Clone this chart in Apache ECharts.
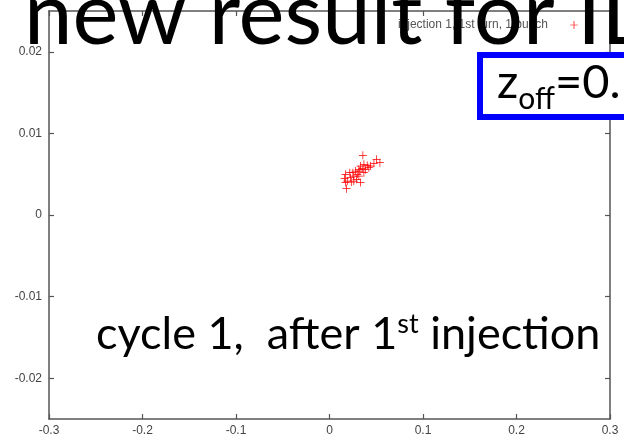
<!DOCTYPE html>
<html>
<head>
<meta charset="utf-8">
<script src="https://cdn.jsdelivr.net/npm/echarts@6/dist/echarts.min.js"></script>
<style>
  html, body { margin: 0; padding: 0; background: #fff; }
  #chart { width: 624px; height: 440px; }
</style>
</head>
<body>
<div id="chart"></div>
<script>
// Particle positions after the first injection (first turn, one bunch)
const xValues = [0.0357, 0.0504, 0.0539, 0.0475, 0.0439, 0.0404, 0.0368, 0.0332, 0.0350, 0.0314,
                 0.0279, 0.0297, 0.0260, 0.0225, 0.0171, 0.0161, 0.0190, 0.0171, 0.0233, 0.0260,
                 0.0325, 0.0386, 0.0421, 0.0289, 0.0332, 0.0182, 0.0217, 0.0368, 0.0314, 0.0250];
const yValues = [0.00731, 0.00682, 0.00641, 0.00633, 0.00600, 0.00608, 0.00621, 0.00600, 0.00568, 0.00559,
                 0.00539, 0.00498, 0.00477, 0.00458, 0.00498, 0.00446, 0.00416, 0.00397, 0.00404, 0.00416,
                 0.00539, 0.00559, 0.00580, 0.00437, 0.00397, 0.00323, 0.00519, 0.00519, 0.00477, 0.00519];

const seriesName = 'injection 1, 1st turn, 1 bunch';
const yTickValues = [-0.02, -0.01, 0, 0.01, 0.02];
const yTickLabels = ['-0.02', '-0.01', '0', '0.01', '0.02'];
const xTickLabels = ['-0.3', '-0.2', '-0.1', '0', '0.1', '0.2', '0.3'];

const titleText = 'new result for ILC';
const offsetLabel = 'off';
const offsetValue = '=0.';

const points = xValues.map((x, i) => [x, yValues[i]]);

// thin "+" marker
const plusPath = 'path://M-0.09,-1 L0.09,-1 L0.09,-0.09 L1,-0.09 L1,0.09 L0.09,0.09 L0.09,1 L-0.09,1 L-0.09,0.09 L-1,0.09 L-1,-0.09 L-0.09,-0.09 Z';

const axisColor = '#555';
const labelFont = { fontFamily: 'Liberation Sans', fontSize: 12, color: '#444' };

function xLabel(v) {
  const i = Math.round((v + 0.3) / 0.1);
  return xTickLabels[i] !== undefined ? xTickLabels[i] : '';
}
function yLabel(v) {
  const i = yTickValues.findIndex(t => Math.abs(t - v) < 1e-9);
  return i >= 0 ? yTickLabels[i] : '';
}

const chart = echarts.init(document.getElementById('chart'), null, { renderer: 'canvas' });

chart.setOption({
  animation: false,
  backgroundColor: '#fff',
  grid: { left: 49, right: 14, top: 11, bottom: 21, containLabel: false },
  legend: {
    top: 14,
    right: 41,
    align: 'right',
    itemWidth: 8,
    itemHeight: 8,
    icon: plusPath,
    data: [seriesName],
    textStyle: { fontFamily: 'Liberation Sans', fontSize: 12, color: '#555', padding: [0, 17, 0, 0] }
  },
  xAxis: [
    {
      type: 'value', position: 'bottom', min: -0.3, max: 0.3, interval: 0.1,
      splitLine: { show: false },
      axisLine: { show: true, onZero: false, lineStyle: { color: axisColor, width: 1.5 } },
      axisTick: { show: true, inside: true, length: 5, lineStyle: { color: axisColor, width: 1.2 } },
      axisLabel: Object.assign({ margin: 6, formatter: xLabel }, labelFont)
    },
    {
      type: 'value', position: 'top', min: -0.3, max: 0.3, interval: 0.1,
      splitLine: { show: false },
      axisLine: { show: true, onZero: false, lineStyle: { color: axisColor, width: 1.5 } },
      axisTick: { show: true, inside: true, length: 5, lineStyle: { color: axisColor, width: 1.2 } },
      axisLabel: { show: false }
    }
  ],
  yAxis: [
    {
      type: 'value', position: 'left', min: -0.025, max: 0.025,
      splitLine: { show: false },
      axisLine: { show: true, onZero: false, lineStyle: { color: axisColor, width: 1.5 } },
      axisTick: { show: true, inside: true, length: 5, customValues: yTickValues, lineStyle: { color: axisColor, width: 1.2 } },
      axisLabel: Object.assign({ margin: 7, customValues: yTickValues, formatter: yLabel }, labelFont)
    },
    {
      type: 'value', position: 'right', min: -0.025, max: 0.025,
      splitLine: { show: false },
      axisLine: { show: true, onZero: false, lineStyle: { color: axisColor, width: 1.5 } },
      axisTick: { show: true, inside: true, length: 5, customValues: yTickValues, lineStyle: { color: axisColor, width: 1.2 } },
      axisLabel: { show: false }
    }
  ],
  series: [
    {
      name: seriesName,
      type: 'scatter',
      xAxisIndex: 0,
      yAxisIndex: 0,
      data: points,
      symbol: plusPath,
      symbolSize: 8,
      itemStyle: { color: '#ff0000', opacity: 1 },
      emphasis: { disabled: true }
    }
  ],
  graphic: [
    {
      type: 'text',
      z: 100,
      left: 24,
      top: -28,
      style: {
        text: titleText,
        fontFamily: 'Lato',
        fontSize: 87,
        fill: '#000'
      }
    },
    {
      type: 'rect',
      z: 90,
      shape: { x: 480, y: 55, width: 200, height: 62 },
      style: { fill: '#fff', stroke: '#0000ff', lineWidth: 6 }
    },
    {
      type: 'text',
      z: 95,
      left: 497,
      top: 59,
      style: {
        text: '{z|z}{s|' + offsetLabel + '}{v|' + offsetValue + '}',
        rich: {
          z: { fontFamily: 'Lato', fontSize: 47, fill: '#000', verticalAlign: 'bottom' },
          s: { fontFamily: 'Lato', fontSize: 30, fill: '#000', padding: [0, 0, -8, 0], verticalAlign: 'bottom' },
          v: { fontFamily: 'Lato', fontSize: 47, fill: '#000', verticalAlign: 'bottom' }
        }
      }
    },
    {
      type: 'text',
      z: 95,
      left: 96,
      top: 311,
      style: {
        text: '{a|cycle 1,  after 1}{b|st}{a| injection}',
        rich: {
          a: { fontFamily: 'Lato', fontSize: 45, fill: '#000', verticalAlign: 'bottom' },
          b: { fontFamily: 'Lato', fontSize: 27, fill: '#000', verticalAlign: 'bottom', padding: [0, 0, 19, 0] }
        }
      }
    }
  ]
});
</script>
</body>
</html>
